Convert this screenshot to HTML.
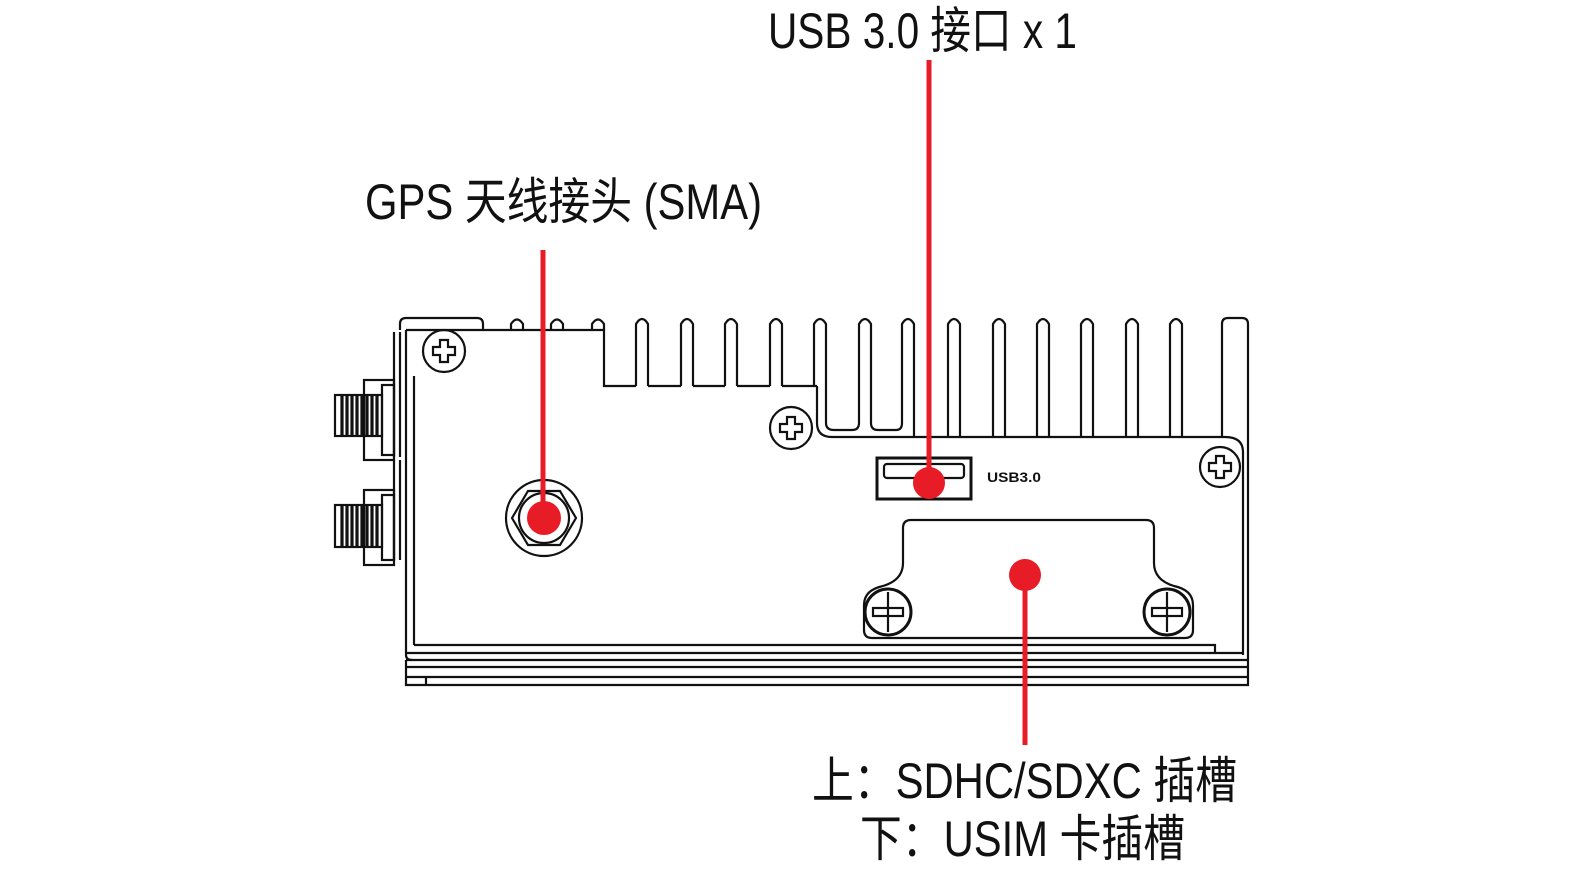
<!DOCTYPE html>
<html><head><meta charset="utf-8"><style>
html,body{margin:0;padding:0;background:#fff;}
svg{display:block;}
text{font-family:"Liberation Sans","Noto Sans CJK SC",sans-serif;fill:#111;}
</style></head><body>
<svg width="1587" height="873" viewBox="0 0 1587 873" xmlns="http://www.w3.org/2000/svg">
<g fill="none" stroke="#111" stroke-width="2.2">
  <path d="M400 330 V324 Q400 318 406 318 H477 Q483 318 483 324 V330"/>
  <path d="M511 330 V324 Q517 315 523 324 V330"/>
  <path d="M551 330 V324 Q557 315 563 324 V330"/>
  <path d="M592 330 V324 Q598 315 604 324 V330"/>
  <path d="M406 330 H604 V386 H636"/>
  <path d="M636 386 V324 Q642 314 648 324 V386"/>
  <path d="M681 386 V324 Q687 314 693 324 V386"/>
  <path d="M725 386 V324 Q731 314 737 324 V386"/>
  <path d="M770 386 V324 Q776 314 782 324 V386"/>
  <path d="M648 386 H681 M693 386 H725 M737 386 H770 M782 386 H817"/>
  <path d="M814 386 V324 Q820 314 826 324 V386"/>
  <path d="M817 386 V423 Q817 437 832 437 H1225 Q1243 437 1243 452 V655"/>
  <path d="M826 386 V423 Q826 430 834 430 H852 Q859 430 859 423 V324 Q865 314 871 324 V423 Q871 430 878 430 H896 Q902 430 902 423 V324 Q908 314 914 324 V437"/>
  <path d="M948 437 V324 Q954 314 960 324 V437"/>
  <path d="M993 437 V324 Q999 314 1005 324 V437"/>
  <path d="M1037 437 V324 Q1043 314 1049 324 V437"/>
  <path d="M1081 437 V324 Q1087 314 1093 324 V437"/>
  <path d="M1126 437 V324 Q1132 314 1138 324 V437"/>
  <path d="M1170 437 V324 Q1176 314 1182 324 V437"/>
  <path d="M1222 437 V324 Q1222 318 1228 318 H1242 Q1248 318 1248 324 V655"/>
  <path d="M406 330 V655 Q406 660 412 660"/>
  <path d="M414 376 V645"/>
  <path d="M394 332 V457 M400 332 V457"/>
  <path d="M394 460 V560 M400 460 V560"/>
  <path d="M414 645 H1215 V653"/>
  <path d="M406 653 H1243"/>
  <path d="M406 660 H1248"/>
  <path d="M406 667 H1248"/>
  <path d="M406 677 H1248"/>
  <path d="M406 660 V685 H1248 V655"/>
  <path d="M426 677 V685"/>
  <g>
    <rect x="364" y="380" width="30" height="80"/>
    <rect x="382" y="385" width="12" height="70"/>
    <rect x="335" y="395" width="47" height="41"/>
    <path d="M342 395 V436 M347 395 V436 M352 395 V436 M357 395 V436 M362 395 V436 M367 395 V436 M372 395 V436 M377 395 V436" stroke-width="3.2"/>
    <rect x="364" y="490" width="30" height="75"/>
    <rect x="382" y="495" width="12" height="65"/>
    <rect x="335" y="505" width="47" height="42"/>
    <path d="M342 505 V547 M347 505 V547 M352 505 V547 M357 505 V547 M362 505 V547 M367 505 V547 M372 505 V547 M377 505 V547" stroke-width="3.2"/>
  </g>
  <g>
    <circle cx="444" cy="351" r="21"/>
    <path d="M440 340 H448 V347 H455 V355 H448 V362 H440 V355 H433 V347 H440 Z"/>
    <circle cx="791" cy="428" r="21"/>
    <path d="M787 417 H795 V424 H802 V432 H795 V439 H787 V432 H780 V424 H787 Z"/>
    <circle cx="1220" cy="467" r="20"/>
    <path d="M1216 456 H1224 V463 H1231 V471 H1224 V478 H1216 V471 H1209 V463 H1216 Z"/>
  </g>
  <circle cx="544" cy="518" r="38"/>
  <polygon points="512,518 528,491 560,491 576,518 560,545 528,545"/>
  <circle cx="544" cy="518" r="25"/>
  <rect x="877" y="458" width="94" height="41" stroke-width="3"/>
  <rect x="884" y="464" width="80" height="14" rx="3"/>
  <path d="M903 563 V528 Q903 520 911 520 H1146 Q1154 520 1154 528 V563 Q1154 580 1174 586 Q1193 590 1193 605 V630 Q1193 638 1185 638 H872 Q864 638 864 630 V605 Q864 590 883 586 Q903 580 903 563 Z"/>
  <circle cx="888" cy="612" r="23" stroke-width="3"/>
  <rect x="873" y="608" width="30" height="8"/>
  <path d="M888 592 V632"/>
  <circle cx="1167" cy="612" r="23" stroke-width="3"/>
  <rect x="1152" y="608" width="30" height="8"/>
  <path d="M1167 592 V632"/>
</g>
<text x="987" y="482" font-size="14" font-weight="bold" textLength="54" lengthAdjust="spacingAndGlyphs">USB3.0</text>
<g stroke="#e81c27" stroke-width="5" fill="#e81c27">
  <line x1="543" y1="250" x2="543" y2="518"/>
  <circle cx="544" cy="518" r="17" stroke="none"/>
  <line x1="929" y1="60" x2="929" y2="483"/>
  <circle cx="929" cy="483" r="16" stroke="none"/>
  <line x1="1025" y1="575" x2="1025" y2="745"/>
  <circle cx="1025" cy="575" r="16" stroke="none"/>
</g>
<text x="768" y="48" font-size="50" textLength="309" lengthAdjust="spacingAndGlyphs">USB 3.0 接口 x 1</text>
<text x="365" y="219" font-size="50" textLength="397" lengthAdjust="spacingAndGlyphs">GPS 天线接头 (SMA)</text>
<text x="812" y="798" font-size="50" textLength="425" lengthAdjust="spacingAndGlyphs">上：SDHC/SDXC 插槽</text>
<text x="860" y="856" font-size="50" textLength="325" lengthAdjust="spacingAndGlyphs">下：USIM 卡插槽</text>
</svg>
</body></html>
